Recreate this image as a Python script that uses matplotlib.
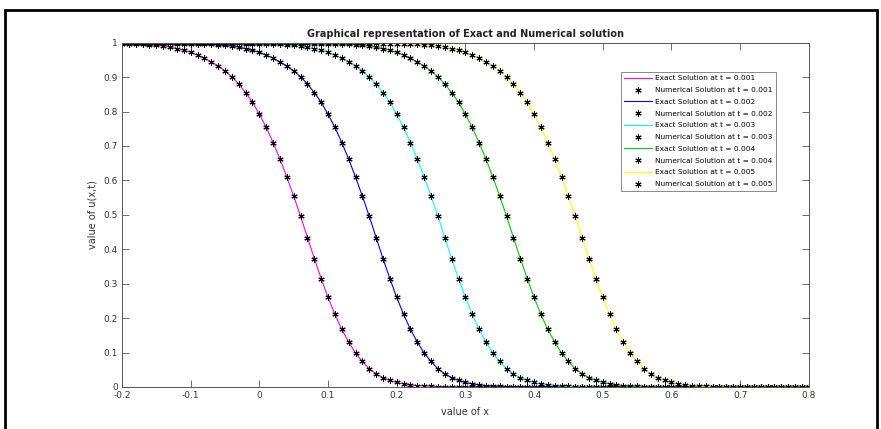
import matplotlib.pyplot as plt
import numpy as np
from matplotlib.patches import Rectangle

# x grid, -0.2 .. 0.8 in steps of 0.01
x = np.round(np.arange(-0.2, 0.8001, 0.01), 2)

# u(x,t) at t = 0.001
u1 = [0.997, 0.997, 0.996, 0.995, 0.994, 0.992, 0.990, 0.987, 0.983, 0.978,
      0.972, 0.964, 0.955, 0.944, 0.932, 0.918, 0.901, 0.880, 0.855, 0.827,
      0.792, 0.754, 0.710, 0.662, 0.610, 0.554, 0.496, 0.434, 0.373, 0.315,
      0.260, 0.211, 0.167, 0.131, 0.098, 0.074, 0.053, 0.038, 0.027, 0.019,
      0.013, 0.009, 0.006, 0.004, 0.003, 0.002, 0.001, 0.001, 0.001, 0.0,
      0, 0, 0, 0, 0, 0, 0, 0, 0, 0,
      0, 0, 0, 0, 0, 0, 0, 0, 0, 0,
      0, 0, 0, 0, 0, 0, 0, 0, 0, 0,
      0, 0, 0, 0, 0, 0, 0, 0, 0, 0,
      0, 0, 0, 0, 0, 0, 0, 0, 0, 0,
      0]

# t = 0.002
u2 = [0.999, 0.999, 0.999, 0.999, 0.998, 0.998, 0.998, 0.998, 0.997, 0.997,
      0.997, 0.997, 0.996, 0.995, 0.994, 0.992, 0.990, 0.987, 0.983, 0.978,
      0.972, 0.964, 0.955, 0.944, 0.932, 0.918, 0.901, 0.880, 0.855, 0.827,
      0.792, 0.754, 0.710, 0.662, 0.610, 0.554, 0.496, 0.434, 0.373, 0.315,
      0.260, 0.211, 0.167, 0.131, 0.098, 0.074, 0.053, 0.038, 0.027, 0.019,
      0.013, 0.009, 0.006, 0.004, 0.003, 0.002, 0.001, 0.001, 0.001, 0.0,
      0, 0, 0, 0, 0, 0, 0, 0, 0, 0,
      0, 0, 0, 0, 0, 0, 0, 0, 0, 0,
      0, 0, 0, 0, 0, 0, 0, 0, 0, 0,
      0, 0, 0, 0, 0, 0, 0, 0, 0, 0,
      0]

# t = 0.003
u3 = [1, 1, 1, 1, 1, 1, 1, 1, 1, 1,
      0.999, 0.999, 0.999, 0.999, 0.998, 0.998, 0.998, 0.998, 0.997, 0.997,
      0.997, 0.997, 0.996, 0.995, 0.994, 0.992, 0.990, 0.987, 0.983, 0.978,
      0.972, 0.964, 0.955, 0.944, 0.932, 0.918, 0.901, 0.880, 0.855, 0.827,
      0.792, 0.754, 0.710, 0.662, 0.610, 0.554, 0.496, 0.434, 0.373, 0.315,
      0.260, 0.211, 0.167, 0.131, 0.098, 0.074, 0.053, 0.038, 0.027, 0.019,
      0.013, 0.009, 0.006, 0.004, 0.003, 0.002, 0.001, 0.001, 0.001, 0.0,
      0, 0, 0, 0, 0, 0, 0, 0, 0, 0,
      0, 0, 0, 0, 0, 0, 0, 0, 0, 0,
      0, 0, 0, 0, 0, 0, 0, 0, 0, 0,
      0]

# t = 0.004
u4 = [1, 1, 1, 1, 1, 1, 1, 1, 1, 1,
      1, 1, 1, 1, 1, 1, 1, 1, 1, 1,
      0.999, 0.999, 0.999, 0.999, 0.998, 0.998, 0.998, 0.998, 0.997, 0.997,
      0.997, 0.997, 0.996, 0.995, 0.994, 0.992, 0.990, 0.987, 0.983, 0.978,
      0.972, 0.964, 0.955, 0.944, 0.932, 0.918, 0.901, 0.880, 0.855, 0.827,
      0.792, 0.754, 0.710, 0.662, 0.610, 0.554, 0.496, 0.434, 0.373, 0.315,
      0.260, 0.211, 0.167, 0.131, 0.098, 0.074, 0.053, 0.038, 0.027, 0.019,
      0.013, 0.009, 0.006, 0.004, 0.003, 0.002, 0.001, 0.001, 0.001, 0.0,
      0, 0, 0, 0, 0, 0, 0, 0, 0, 0,
      0, 0, 0, 0, 0, 0, 0, 0, 0, 0,
      0]

# t = 0.005
u5 = [1, 1, 1, 1, 1, 1, 1, 1, 1, 1,
      1, 1, 1, 1, 1, 1, 1, 1, 1, 1,
      1, 1, 1, 1, 1, 1, 1, 1, 1, 1,
      0.999, 0.999, 0.999, 0.999, 0.998, 0.998, 0.998, 0.998, 0.997, 0.997,
      0.997, 0.997, 0.996, 0.995, 0.994, 0.992, 0.990, 0.987, 0.983, 0.978,
      0.972, 0.964, 0.955, 0.944, 0.932, 0.918, 0.901, 0.880, 0.855, 0.827,
      0.792, 0.754, 0.710, 0.662, 0.610, 0.554, 0.496, 0.434, 0.373, 0.315,
      0.260, 0.211, 0.167, 0.131, 0.098, 0.074, 0.053, 0.038, 0.027, 0.019,
      0.013, 0.009, 0.006, 0.004, 0.003, 0.002, 0.001, 0.001, 0.001, 0.0,
      0, 0, 0, 0, 0, 0, 0, 0, 0, 0,
      0]

times = ['0.001', '0.002', '0.003', '0.004', '0.005']
exact = [u1, u2, u3, u4, u5]
numerical = [u1, u2, u3, u4, u5]
colors = ['#ff00ff', '#0000ff', '#00ffff', '#00cc00', '#ffff00']

fig = plt.figure(figsize=(8.81, 4.29), dpi=100)
ax = fig.add_axes([0.1385, 0.098, 0.7795, 0.8025])

for t, ue, un, c in zip(times, exact, numerical, colors):
    ax.plot(x, ue, '-', color=c, lw=0.8, label='Exact Solution at t = ' + t)
    ax.plot(x, un, linestyle='none', marker=(6, 2, 0), ms=4.5, mew=0.75,
            color='black', label='Numerical Solution at t = ' + t)

ax.set_xlim(-0.2, 0.8)
ax.set_ylim(0, 1)
ax.set_xticks(np.round(np.arange(-0.2, 0.81, 0.1), 1))
ax.set_xticklabels(['-0.2', '-0.1', '0', '0.1', '0.2', '0.3', '0.4', '0.5', '0.6', '0.7', '0.8'])
ax.set_yticks(np.round(np.arange(0, 1.01, 0.1), 1))
ax.set_yticklabels(['0', '0.1', '0.2', '0.3', '0.4', '0.5', '0.6', '0.7', '0.8', '0.9', '1'])
ax.tick_params(direction='in', top=True, right=True, length=5, width=0.6,
               labelsize=6.5, colors='#555555', labelcolor='#333333', pad=3)
for s in ax.spines.values():
    s.set_color('#555555')
    s.set_linewidth(0.7)

ax.set_xlabel('value of x', fontsize=7, color='#333333', labelpad=5)
ax.set_ylabel('value of u(x,t)', fontsize=7, color='#333333', labelpad=4)
ax.set_title('Graphical representation of Exact and Numerical solution',
             fontsize=7, fontweight='bold', color='#222222', pad=4)

leg = ax.legend(loc='upper right', bbox_to_anchor=(0.953, 0.916), fontsize=5.3,
                fancybox=False, edgecolor='#777777', framealpha=1,
                handlelength=3.8, labelspacing=0.76, borderpad=0.5,
                handletextpad=0.4, borderaxespad=0)
leg.get_frame().set_linewidth(0.6)

# black frame round the figure
fig.patches.append(Rectangle((5 / 881, -0.05), 872 / 881, 1.05 - 10 / 429,
                             transform=fig.transFigure, fill=False,
                             edgecolor='black', lw=2))

fig.savefig('out.png', dpi=100)
